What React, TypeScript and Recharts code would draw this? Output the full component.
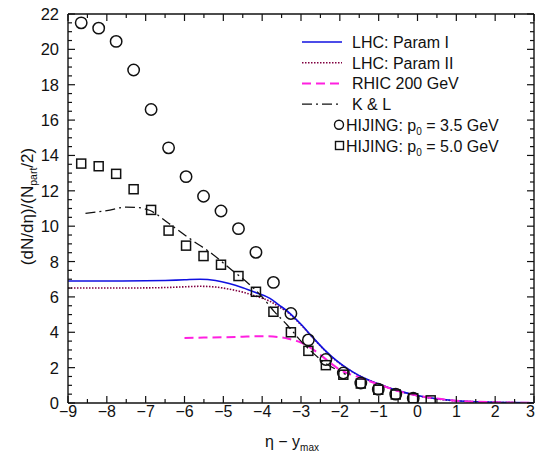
import { ComposedChart, Line, Scatter, XAxis, YAxis, Legend } from "recharts";

// LHC predictions (shared eta grid)
const lhcEta = [-9, -8, -7, -6.5, -6, -5.6, -5.2, -4.85, -4.5, -4.17, -3.8, -3.57, -3.3, -3.0, -2.7, -2.4, -2.1, -1.8, -1.5, -1.2, -1.0, -0.5, 0, 0.5, 1, 1.5, 2, 2.5, 3];
const lhcParamI = [6.9, 6.9, 6.91, 6.93, 6.97, 7.0, 6.93, 6.76, 6.52, 6.25, 5.92, 5.55, 5.1, 4.45, 3.72, 3.02, 2.42, 1.94, 1.55, 1.25, 1.08, 0.7, 0.42, 0.24, 0.13, 0.07, 0.035, 0.02, 0.01];
const lhcParamII = [6.5, 6.5, 6.51, 6.53, 6.57, 6.6, 6.56, 6.44, 6.27, 6.05, 5.75, 5.45, 5.05, 4.42, 3.7, 3.0, 2.4, 1.93, 1.54, 1.24, 1.07, 0.69, 0.41, 0.23, 0.12, 0.07, 0.035, 0.02, 0.01];

const rhicEta = [-6, -5.5, -5, -4.5, -4.2, -3.9, -3.57, -3.3, -3.0, -2.7, -2.46, -2.2, -2.0, -1.8, -1.5, -1.2, -1.0, -0.5, 0, 0.5, 1, 1.5, 2, 2.5, 3];
const rhic200 = [3.68, 3.7, 3.72, 3.75, 3.77, 3.77, 3.73, 3.62, 3.42, 3.05, 2.65, 2.2, 1.88, 1.68, 1.45, 1.2, 1.05, 0.68, 0.42, 0.25, 0.13, 0.07, 0.04, 0.02, 0.01];

const klEta = [-8.55, -8.0, -7.5, -7.2, -6.9, -6.4, -5.8, -5.3, -4.8, -4.35, -4.0, -3.7, -3.35, -3.0, -2.7, -2.4, -2.1, -1.85];
const kl = [10.73, 10.88, 11.08, 11.05, 10.9, 10.15, 9.2, 8.45, 7.55, 6.75, 6.0, 5.2, 4.4, 3.5, 2.85, 2.3, 1.9, 1.62];

// HIJING points
const hijingEta = [-8.66, -8.21, -7.76, -7.31, -6.86, -6.41, -5.96, -5.51, -5.06, -4.61, -4.16, -3.71, -3.26, -2.81, -2.36, -1.91, -1.46, -1.01, -0.56, -0.11, 0.34];
const hijingP035 = [21.5, 21.2, 20.45, 18.83, 16.6, 14.43, 12.8, 11.69, 10.86, 9.86, 8.52, 6.82, 5.06, 3.57, 2.46, 1.7, 1.13, 0.78, 0.5, 0.27];
const hijingP050 = [13.54, 13.39, 12.96, 12.09, 10.92, 9.75, 8.9, 8.31, 7.82, 7.18, 6.29, 5.16, 4.0, 2.95, 2.14, 1.6, 1.1, 0.75, 0.48, 0.27, 0.15];

const xTicks = [-9, -8.5, -8, -7.5, -7, -6.5, -6, -5.5, -5, -4.5, -4, -3.5, -3, -2.5, -2, -1.5, -1, -0.5, 0, 0.5, 1, 1.5, 2, 2.5, 3];
const yTicks = [0, 0.5, 1, 1.5, 2, 2.5, 3, 3.5, 4, 4.5, 5, 5.5, 6, 6.5, 7, 7.5, 8, 8.5, 9, 9.5, 10, 10.5, 11, 11.5, 12, 12.5, 13, 13.5, 14, 14.5, 15, 15.5, 16, 16.5, 17, 17.5, 18, 18.5, 19, 19.5, 20, 20.5, 21, 21.5, 22];

const zip = (xs: number[], ys: number[]) => ys.map((y, i) => ({ x: xs[i], y }));

const FONT = "'Liberation Sans', Arial, Helvetica, sans-serif";
const INK = "#111";

const fmt = (v: number) => (v < 0 ? `\u2212${Math.abs(v)}` : `${v}`);

function BottomTick(props: any) {
  const { x, y, payload } = props;
  const major = Number.isInteger(payload.value);
  const last = payload.value === 3; // keep the edge label inside the picture
  return (
    <g>
      <line x1={x} x2={x} y1={y} y2={y - (major ? 7 : 4)} stroke={INK} strokeWidth={1.2} />
      {major && (
        <text
          x={last ? x + 1 : x}
          y={y + 14}
          textAnchor={last ? "end" : "middle"}
          fontSize={16}
          fontFamily={FONT}
          fill={INK}
        >
          {fmt(payload.value)}
        </text>
      )}
    </g>
  );
}

function TopTick(props: any) {
  const { x, y, payload } = props;
  const major = Number.isInteger(payload.value);
  return <line x1={x} x2={x} y1={y} y2={y + (major ? 7 : 4)} stroke={INK} strokeWidth={1.2} />;
}

function LeftTick(props: any) {
  const { x, y, payload } = props;
  const major = payload.value % 2 === 0;
  return (
    <g>
      <line x1={x} x2={x + (major ? 7 : 4)} y1={y} y2={y} stroke={INK} strokeWidth={1.2} />
      {major && (
        <text x={x - 9} y={y + 6} textAnchor="end" fontSize={16.5} fontFamily={FONT} fill={INK}>
          {payload.value}
        </text>
      )}
    </g>
  );
}

function RightTick(props: any) {
  const { x, y, payload } = props;
  const major = payload.value % 2 === 0;
  return <line x1={x} x2={x - (major ? 7 : 4)} y1={y} y2={y} stroke={INK} strokeWidth={1.2} />;
}

const OpenCircle = (p: any) => (
  <circle cx={p.cx} cy={p.cy} r={5.7} fill="none" stroke={INK} strokeWidth={1.5} />
);
const OpenSquare = (p: any) => (
  <rect x={p.cx - 4.5} y={p.cy - 4.5} width={9} height={9} fill="none" stroke={INK} strokeWidth={1.5} />
);

const legendLines = [
  { name: "LHC: Param I", color: "#1010e0", dash: undefined, width: 1.6 },
  { name: "LHC: Param II", color: "#800040", dash: "1.5 1.5", width: 1.6 },
  { name: "RHIC 200 GeV", color: "#ff20e0", dash: "9 5", width: 2 },
  { name: "K & L", color: INK, dash: "10 4 2 4", width: 1.3 },
];

function LegendBox() {
  const rowH = 20.7;
  return (
    <svg width={240} height={135} style={{ display: "block" }}>
      {legendLines.map((l, i) => (
        <g key={l.name}>
          <line x1={6} x2={46} y1={11 + i * rowH} y2={11 + i * rowH} stroke={l.color} strokeWidth={l.width} strokeDasharray={l.dash} />
          <text x={56} y={17 + i * rowH} fontSize={16} fontFamily={FONT} fill={INK}>
            {l.name}
          </text>
        </g>
      ))}
      <circle cx={43} cy={11 + 4 * rowH} r={4.5} fill="none" stroke={INK} strokeWidth={1.4} />
      <text x={50} y={17 + 4 * rowH} fontSize={16} fontFamily={FONT} fill={INK}>
        HIJING: p<tspan fontSize={10} dy={4}>0</tspan>
        <tspan dy={-4}> = 3.5 GeV</tspan>
      </text>
      <rect x={39.5} y={7 + 5 * rowH} width={8} height={8} fill="none" stroke={INK} strokeWidth={1.4} />
      <text x={50} y={17 + 5 * rowH} fontSize={16} fontFamily={FONT} fill={INK}>
        HIJING: p<tspan fontSize={10} dy={4}>0</tspan>
        <tspan dy={-4}> = 5.0 GeV</tspan>
      </text>
    </svg>
  );
}

function XTitle(props: any) {
  const { viewBox } = props;
  const cx = 292;
  return (
    <text x={cx} y={viewBox.y + 44} textAnchor="middle" fontSize={16} fontFamily={FONT} fill={INK}>
      η − y<tspan fontSize={10} dy={4}>max</tspan>
    </text>
  );
}

function YTitle(props: any) {
  const { viewBox } = props;
  const cy = viewBox.y + viewBox.height / 2 - 2;
  const cx = 33;
  return (
    <text x={cx} y={cy} textAnchor="middle" fontSize={17} fontFamily={FONT} fill={INK} transform={`rotate(-90 ${cx} ${cy})`}>
      (dN/dη)/(N<tspan fontSize={10.5} dy={4}>part</tspan>
      <tspan dy={-4}>/2)</tspan>
    </text>
  );
}

export default function App() {
  return (
    <div style={{ position: "absolute", left: 0, top: 0, background: "#fff" }}>
      <ComposedChart width={535} height={452} margin={{ top: 0, right: 0, bottom: 0, left: 0 }}>
        <XAxis
          xAxisId="bottom"
          dataKey="x"
          type="number"
          domain={[-9, 3]}
          ticks={xTicks}
          interval={0}
          height={49}
          tickSize={0}
          tickMargin={0}
          tick={BottomTick}
          axisLine={{ stroke: INK, strokeWidth: 1.4 }}
          allowDataOverflow
          label={<XTitle />}
        />
        <XAxis
          xAxisId="top"
          orientation="top"
          dataKey="x"
          type="number"
          domain={[-9, 3]}
          ticks={xTicks}
          interval={0}
          height={14}
          tickSize={0}
          tickMargin={0}
          tick={TopTick}
          axisLine={{ stroke: INK, strokeWidth: 1.4 }}
          allowDataOverflow
        />
        <YAxis
          yAxisId="left"
          dataKey="y"
          type="number"
          domain={[0, 22]}
          ticks={yTicks}
          interval={0}
          width={68}
          tickSize={0}
          tickMargin={0}
          tick={LeftTick}
          axisLine={{ stroke: INK, strokeWidth: 1.4 }}
          allowDataOverflow
          label={<YTitle />}
        />
        <YAxis
          yAxisId="right"
          orientation="right"
          dataKey="y"
          type="number"
          domain={[0, 22]}
          ticks={yTicks}
          interval={0}
          width={1}
          tickSize={0}
          tickMargin={0}
          tick={RightTick}
          axisLine={{ stroke: INK, strokeWidth: 1.4 }}
          allowDataOverflow
        />
        <Legend
          layout="vertical"
          align="center"
          verticalAlign="middle"
          content={() => <LegendBox />}
          wrapperStyle={{ position: "absolute", left: 296, top: 31, width: 240, height: 135 }}
        />
        <Line
          xAxisId="bottom"
          yAxisId="left"
          data={zip(lhcEta, lhcParamII)}
          dataKey="y"
          type="monotone"
          stroke="#800040"
          strokeWidth={1.6}
          strokeDasharray="1.5 1.5"
          dot={false}
          isAnimationActive={false}
        />
        <Line
          xAxisId="bottom"
          yAxisId="left"
          data={zip(lhcEta, lhcParamI)}
          dataKey="y"
          type="monotone"
          stroke="#1010e0"
          strokeWidth={1.6}
          dot={false}
          isAnimationActive={false}
        />
        <Line
          xAxisId="bottom"
          yAxisId="left"
          data={zip(rhicEta, rhic200)}
          dataKey="y"
          type="monotone"
          stroke="#ff20e0"
          strokeWidth={2}
          strokeDasharray="9 5"
          dot={false}
          isAnimationActive={false}
        />
        <Line
          xAxisId="bottom"
          yAxisId="left"
          data={zip(klEta, kl)}
          dataKey="y"
          type="monotone"
          stroke={INK}
          strokeWidth={1.3}
          strokeDasharray="10 4 2 4"
          dot={false}
          isAnimationActive={false}
        />
        <Scatter
          xAxisId="top"
          yAxisId="right"
          data={zip(hijingEta, hijingP035)}
          shape={OpenCircle}
          isAnimationActive={false}
        />
        <Scatter
          xAxisId="bottom"
          yAxisId="left"
          data={zip(hijingEta, hijingP050)}
          shape={OpenSquare}
          isAnimationActive={false}
        />
      </ComposedChart>
    </div>
  );
}
